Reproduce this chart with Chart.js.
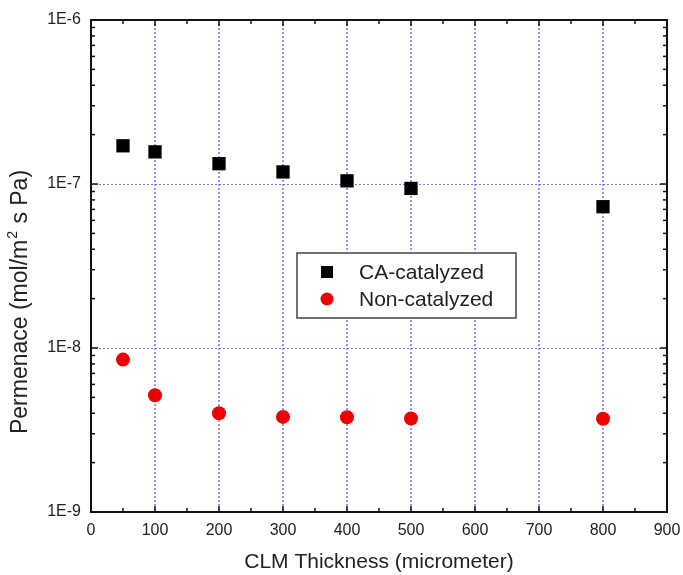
<!DOCTYPE html>
<html>
<head>
<meta charset="utf-8">
<script src="https://cdn.jsdelivr.net/npm/chart.js@4"></script>
<style>
  html, body { margin: 0; padding: 0; background: #fff; }
  #wrap { width: 683px; height: 575px; position: relative; }
</style>
</head>
<body>
<div id="wrap"><canvas id="c" width="683" height="575"></canvas></div>
<script>
// ---- data ----
const thickness = [50, 100, 200, 300, 400, 500, 800];
const caCatalyzed = [1.71e-7, 1.57e-7, 1.33e-7, 1.185e-7, 1.045e-7, 9.4e-8, 7.27e-8];
const nonCatalyzed = [8.5e-9, 5.15e-9, 4.0e-9, 3.8e-9, 3.78e-9, 3.72e-9, 3.7e-9];
const seriesNames = ['CA-catalyzed', 'Non-catalyzed'];
const xTickValues = [0, 100, 200, 300, 400, 500, 600, 700, 800, 900];
const xMinorValues = [50, 150, 250, 350, 450, 550, 650, 750, 850];
const yTickValues = [1e-9, 1e-8, 1e-7, 1e-6];
const yTickLabels = ['1E-9', '1E-8', '1E-7', '1E-6'];
const xTitle = 'CLM Thickness (micrometer)';
const yTitleMain = 'Permenace (mol/m';
const yTitleSup = '2';
const yTitleEnd = ' s Pa)';

const FONT = '"Liberation Sans", Arial, sans-serif';
const TXT = '#222';
const GRID = 'rgb(120,120,235)';
const GRID_V = 'rgb(150,150,240)';

const frameAndGrid = {
  id: 'frameAndGrid',
  beforeDatasetsDraw(chart) {
    const {ctx, chartArea: {left, right, top, bottom}, scales: {x, y}} = chart;
    ctx.save();
    ctx.fillStyle = GRID_V;
    xTickValues.slice(1, -1).forEach(v => {
      const px = Math.round(x.getPixelForValue(v));
      for (let py = Math.ceil(top); py < bottom; py += 4) ctx.fillRect(px - 1, py, 2, 2);
    });
    ctx.fillStyle = GRID;
    yTickValues.slice(1, -1).forEach(v => {
      const py = Math.round(y.getPixelForValue(v));
      for (let px = Math.ceil(left); px < right; px += 4) ctx.fillRect(px, py, 2, 1);
    });
    ctx.restore();
  },
  afterDraw(chart) {
    const {ctx, chartArea: {left, right, top, bottom}, scales: {x, y}} = chart;
    ctx.save();
    ctx.strokeStyle = '#111';
    ctx.lineWidth = 1.5;
    const seg = (x1, y1, x2, y2) => { ctx.beginPath(); ctx.moveTo(x1, y1); ctx.lineTo(x2, y2); ctx.stroke(); };
    xTickValues.forEach(v => { const p = x.getPixelForValue(v); seg(p, bottom, p, bottom - 6); seg(p, top, p, top + 6); });
    xMinorValues.forEach(v => { const p = x.getPixelForValue(v); seg(p, bottom, p, bottom - 4); seg(p, top, p, top + 4); });
    yTickValues.forEach(v => { const p = y.getPixelForValue(v); seg(left, p, left + 7, p); seg(right, p, right - 7, p); });
    for (let d = 0; d < yTickValues.length - 1; d++) {
      for (let m = 2; m <= 9; m++) {
        const p = y.getPixelForValue(yTickValues[d] * m);
        seg(left, p, left + 4, p); seg(right, p, right - 4, p);
      }
    }
    ctx.lineWidth = 2;
    ctx.strokeRect(left, top, right - left, bottom - top);

    // y title with superscript
    ctx.fillStyle = TXT;
    ctx.translate(21, 302);
    ctx.rotate(-Math.PI / 2);
    ctx.textBaseline = 'middle';
    ctx.font = '23px ' + FONT;
    const w1 = ctx.measureText(yTitleMain).width;
    const w3 = ctx.measureText(yTitleEnd).width;
    ctx.font = '14px ' + FONT;
    const w2 = ctx.measureText(yTitleSup).width + 2;
    const total = w1 + w2 + w3;
    let sx = -total / 2;
    ctx.font = '23px ' + FONT;
    ctx.fillText(yTitleMain, sx, 0);
    ctx.font = '14px ' + FONT;
    ctx.fillText(yTitleSup, sx + w1 + 1, -8);
    ctx.font = '23px ' + FONT;
    ctx.fillText(yTitleEnd, sx + w1 + w2, 0);
    ctx.restore();

    // legend box
    ctx.save();
    const bx = 297, by = 253, bw = 219, bh = 65;
    ctx.fillStyle = '#fff';
    ctx.fillRect(bx, by, bw, bh);
    ctx.strokeStyle = '#444';
    ctx.lineWidth = 1.5;
    ctx.strokeRect(bx, by, bw, bh);
    ctx.font = '21px ' + FONT;
    ctx.textBaseline = 'middle';
    chart.data.datasets.forEach((ds, i) => {
      const cy = 272 + i * 27;
      ctx.fillStyle = ds.backgroundColor;
      if (ds.pointStyle === 'rect') {
        ctx.fillRect(327 - 6, cy - 6, 12, 12);
      } else {
        ctx.beginPath(); ctx.arc(327, cy, 6.5, 0, Math.PI * 2); ctx.fill();
      }
      ctx.fillStyle = TXT;
      ctx.fillText(ds.label, 359, cy + 1);
    });
    ctx.restore();
  }
};

new Chart(document.getElementById('c'), {
  type: 'scatter',
  data: {
    datasets: [
      {
        label: seriesNames[0],
        data: thickness.map((t, i) => ({x: t, y: caCatalyzed[i]})),
        pointStyle: 'rect',
        pointRadius: 9.4,
        backgroundColor: '#000',
        borderColor: '#000',
        borderWidth: 0
      },
      {
        label: seriesNames[1],
        data: thickness.map((t, i) => ({x: t, y: nonCatalyzed[i]})),
        pointStyle: 'circle',
        pointRadius: 7,
        backgroundColor: '#ee0000',
        borderColor: '#ee0000',
        borderWidth: 0
      }
    ]
  },
  options: {
    responsive: false,
    animation: false,
    layout: { padding: { top: 20, right: 16, left: 0, bottom: 0 } },
    plugins: { legend: { display: false }, tooltip: { enabled: false } },
    scales: {
      x: {
        type: 'linear',
        min: 0, max: 900,
        afterBuildTicks: s => { s.ticks = xTickValues.map(v => ({value: v})); },
        afterFit: s => { s.height = 63; s.paddingLeft = 0; s.paddingRight = 0; },
        grid: { display: false, drawTicks: false },
        border: { display: false },
        ticks: { padding: 9, color: TXT, font: { family: FONT, size: 16 }, maxRotation: 0, autoSkip: false,
                  callback: v => String(v) },
        title: { display: true, text: xTitle, color: TXT, font: { family: FONT, size: 21 }, padding: { top: 0, bottom: 0 } }
      },
      y: {
        type: 'logarithmic',
        min: 1e-9, max: 1e-6,
        afterBuildTicks: s => { s.ticks = yTickValues.map(v => ({value: v})); },
        afterFit: s => { s.width = 91; s.paddingTop = 0; s.paddingBottom = 0; },
        grid: { display: false, drawTicks: false },
        border: { display: false },
        ticks: { padding: 10, color: TXT, font: { family: FONT, size: 16 }, autoSkip: false,
                 callback: (v, i) => yTickLabels[i] }
      }
    }
  },
  plugins: [frameAndGrid]
});
</script>
</body>
</html>
